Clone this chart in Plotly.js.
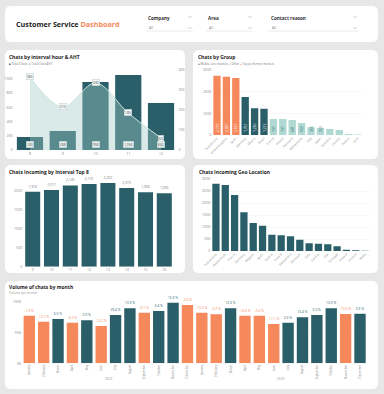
<!DOCTYPE html>
<html><head><meta charset="utf-8">
<script src="https://cdn.plot.ly/plotly-3.0.1.min.js"></script>
<style>html,body{margin:0;padding:0;background:#e7e7e7}#chart{width:384px;height:394px}</style>
</head><body><div id="chart"></div>
<script>
// ---------- DATA ----------
const hourCats = ["8", "9", "10", "11", "12"];
const hourChats = [183, 268, 958, 1056, 662];
const hourAHT = [365, 215, 335, 185, 60];

const groupNames = ["Scandinavia", "United Kingdom", "Spain", "Germany", "Mexico", "Brazil", "France", "Poland", "Denmark", "Netherlands", "Italy", "Japan", "Australia", "Canada", "Austria", "Chile"];
const groupChats = [2733, 2687, 2627, 1751, 1230, 1212, 737, 737, 691, 553, 355, 323, 276, 230, 46, 23];
const groupSegments = ["Top performer markets", "Top performer markets", "Top performer markets",
  "Mobile core markets", "Mobile core markets", "Mobile core markets",
  "Other", "Other", "Other", "Other", "Other", "Other", "Other", "Other", "Other", "Other"];
const segmentNames = ["Mobile core markets", "Other", "Top performer markets"];

const intervalCats = ["9", "10", "11", "12", "13", "14", "15", "16"];
const intervalChats = [1974, 2017, 2140, 2175, 2202, 2070, 1956, 1930];

const geoNames = ["Scandinavia", "Netherlands", "France", "Germany", "Belgium", "Spain", "Austria", "Poland", "Switzerland", "Denmark", "Italy", "Czechia", "USA", "Portugal", "Ireland", "Finland", "Malta"];
const geoChats = [2805, 2750, 2333, 1611, 1167, 1055, 680, 653, 611, 472, 320, 305, 278, 195, 55, 28, 14];

const months = ["January", "February", "March", "April", "May", "June", "July", "August", "September", "October", "November", "December"];
const years = ["2022", "2023"];
const volume2022 = [77.3, 67.5, 71.9, 65.9, 69.8, 60.6, 78.4, 89.3, 82.1, 84.9, 98.4, 94.7];
const volume2023 = [82.1, 79.5, 89.3, 77.3, 77.0, 63.8, 65.9, 74.7, 78.4, 89.3, 80.0, 80.5];
const volumeDec2021 = 78.8;

// ---------- STYLE ----------
const W = 384, H = 394;
const X = v => v / W, Y = v => 1 - v / H;
const FONT = 'Segoe UI, Open Sans, sans-serif';
const TEAL = '#2a5f6a', ORANGE = '#f5895c', LIGHT = '#afd9d2', BG = '#e7e7e7';
const TICKF = {size: 3.6, color: '#888', family: FONT};
const TITLE = 4.9;

function card(x0, y0, x1, y1, r) {
  return {type: 'path', xref: 'paper', yref: 'paper', layer: 'below', fillcolor: '#ffffff', line: {width: 0},
    path: `M ${X(x0 + r)} ${Y(y0)} L ${X(x1 - r)} ${Y(y0)} Q ${X(x1)} ${Y(y0)} ${X(x1)} ${Y(y0 + r)} L ${X(x1)} ${Y(y1 - r)} Q ${X(x1)} ${Y(y1)} ${X(x1 - r)} ${Y(y1)} L ${X(x0 + r)} ${Y(y1)} Q ${X(x0)} ${Y(y1)} ${X(x0)} ${Y(y1 - r)} L ${X(x0)} ${Y(y0 + r)} Q ${X(x0)} ${Y(y0)} ${X(x0 + r)} ${Y(y0)} Z`};
}
function chevron(cx, cy) {
  return {type: 'path', xref: 'paper', yref: 'paper', line: {color: '#aaa', width: 0.5},
    path: `M ${X(cx - 2)} ${Y(cy - 1)} L ${X(cx)} ${Y(cy + 1)} L ${X(cx + 2)} ${Y(cy - 1)}`};
}
function hline(x0, x1, y, c) {
  return {type: 'line', xref: 'paper', yref: 'paper', x0: X(x0), x1: X(x1), y0: Y(y), y1: Y(y), line: {color: c || '#dcdcdc', width: 0.6}};
}
function label(x, y, text, size, color, bold, extra) {
  return Object.assign({xref: 'paper', yref: 'paper', x: X(x), y: Y(y), xanchor: 'left', yanchor: 'middle', showarrow: false,
    text: bold ? '<b>' + text + '</b>' : text, font: {family: FONT, size: size, color: color}}, extra || {});
}
const fmt = v => v.toLocaleString('en-US');

// ---------- TRACES ----------
const traces = [];
const hourIdx = hourCats.map((c, i) => i);
// Chart 1
traces.push({type: 'bar', x: hourIdx, y: hourChats, xaxis: 'x', yaxis: 'y', marker: {color: TEAL}, width: 0.8, hoverinfo: 'none'});
traces.push({type: 'scatter', mode: 'lines', x: hourIdx, y: hourAHT, xaxis: 'x', yaxis: 'y2', line: {color: '#cfe6e2', width: 1, shape: 'spline', smoothing: 1}, fill: 'tozeroy', fillcolor: 'rgba(159,203,197,0.4)', hoverinfo: 'none'});
// Chart 2
const segColor = {"Top performer markets": ORANGE, "Mobile core markets": TEAL, "Other": LIGHT};
traces.push({type: 'bar', x: groupNames, y: groupChats, xaxis: 'x2', yaxis: 'y3', width: 0.78,
  marker: {color: groupSegments.map(s => segColor[s])},
  text: groupChats.map(v => v >= 300 ? fmt(v) : ''), textposition: 'inside', insidetextanchor: 'start', textangle: -90, constraintext: 'none',
  textfont: {size: 3.3, family: FONT, color: groupSegments.map(s => s === 'Other' ? '#2a5f6a' : '#ffffff')}, hoverinfo: 'none'});
// Chart 3
traces.push({type: 'bar', x: intervalCats, y: intervalChats, xaxis: 'x3', yaxis: 'y4', width: 0.8, marker: {color: TEAL},
  text: intervalChats.map(fmt), textposition: 'outside', constraintext: 'none', cliponaxis: false,
  textfont: {size: 3.3, family: FONT, color: '#777'}, hoverinfo: 'none'});
// Chart 4
traces.push({type: 'bar', x: geoNames, y: geoChats, xaxis: 'x4', yaxis: 'y5', width: 0.78, marker: {color: TEAL}, hoverinfo: 'none'});
// Chart 5
const allVol = volume2022.concat(volume2023);
const idx = allVol.map((v, i) => i);
const pct = allVol.map((v, i) => { const p = i === 0 ? volumeDec2021 : allVol[i - 1]; return (v - p) / p * 100; });
const volColors = pct.map(p => p < 0 ? ORANGE : TEAL);
traces.push({type: 'bar', x: idx, y: allVol, xaxis: 'x5', yaxis: 'y6', width: 0.79, marker: {color: volColors},
  text: pct.map(p => (p < 0 ? '-' : '') + Math.abs(p).toFixed(1) + ' %'), textposition: 'outside', constraintext: 'none', cliponaxis: false,
  textfont: {size: 3.3, family: FONT, color: volColors}, hoverinfo: 'none'});

// ---------- ANNOTATIONS ----------
const ann = [];
ann.push(label(14, 24, 'Customer Service <span style="color:#f5895c">Dashboard</span>', 7.2, '#222', true));
ann.push(label(146, 18, 'Company', 4.6, '#333', true));
ann.push(label(147, 28, 'All', 3.6, '#888'));
ann.push(label(206, 18, 'Area', 4.6, '#333', true));
ann.push(label(207, 28, 'All', 3.6, '#888'));
ann.push(label(269, 18, 'Contact reason', 4.6, '#333', true));
ann.push(label(270, 28, 'All', 3.6, '#888'));

ann.push(label(7, 57, 'Chats by interval hour &amp; AHT', TITLE, '#222', true));
ann.push(label(7, 64, '<span style="color:#2a5f6a">■</span> Total Chats  <span style="color:#9fcbc5">■</span> Total Chat AHT', 3, '#777'));
ann.push(label(196, 57, 'Chats by Group', TITLE, '#222', true));
ann.push(label(196, 64, '<span style="color:#2a5f6a">●</span> ' + segmentNames[0] + ' <span style="color:#afd9d2">●</span> ' + segmentNames[1] + ' <span style="color:#f5895c">●</span> ' + segmentNames[2], 2.9, '#777'));
ann.push(label(7, 172, 'Chats Incoming by Interval Top 8', TITLE, '#222', true));
ann.push(label(197, 172, 'Chats Incoming Geo Location', TITLE, '#222', true));
ann.push(label(7, 287, 'Volume of chats by month', TITLE, '#222', true));
ann.push(label(7, 293, 'Volume per month', 3.2, '#999'));

hourChats.forEach((v, i) => ann.push({xref: 'x', yref: 'y', x: i, y: 0, yanchor: 'bottom', yshift: 2, showarrow: false,
  text: fmt(v), font: {size: 3.3, family: FONT, color: '#444'}, bgcolor: '#e9f2f1', bordercolor: '#b9cfcd', borderwidth: 0.5, borderpad: 0.6}));
hourAHT.forEach((v, i) => ann.push({xref: 'x', yref: 'y2', x: i, y: v, yanchor: 'middle', showarrow: false,
  text: fmt(v), font: {size: 3.3, family: FONT, color: '#444'}, bgcolor: '#f4f9f8', bordercolor: '#b9cfcd', borderwidth: 0.5, borderpad: 0.6}));
years.forEach((yr, k) => ann.push({xref: 'x5', yref: 'paper', x: k * 12 + 5.5, y: Y(383), showarrow: false, text: yr,
  font: {size: 3.2, family: FONT, color: '#999'}}));

// ---------- LAYOUT ----------
const smallX = {size: 3, color: '#888', family: FONT};
const baseX = {showgrid: false, zeroline: false, showline: false, ticks: '', tickfont: TICKF, fixedrange: true};
const baseY = {showgrid: false, zeroline: false, showline: false, ticks: '', tickfont: TICKF, fixedrange: true};
const layout = {
  width: W, height: H, margin: {l: 0, r: 0, t: 0, b: 0}, paper_bgcolor: BG, plot_bgcolor: 'rgba(0,0,0,0)', showlegend: false,
  font: {family: FONT, size: 4, color: '#777'},
  xaxis: Object.assign({}, baseX, {domain: [X(13.6), X(177.4)], anchor: 'y', range: [-0.5, 4.5], tickvals: hourIdx, ticktext: hourCats}),
  yaxis: Object.assign({}, baseY, {domain: [Y(150), Y(70)], anchor: 'x', range: [0, 1127], tickvals: [0, 200, 400, 600, 800, 1000]}),
  yaxis2: Object.assign({}, baseY, {overlaying: 'y', anchor: 'x', side: 'right', range: [0, 400], tickvals: [0, 100, 200, 300, 400]}),
  xaxis2: Object.assign({}, baseX, {domain: [X(212.3), X(362.7)], anchor: 'y3', type: 'category', tickangle: -45, tickfont: smallX}),
  yaxis3: Object.assign({}, baseY, {domain: [Y(135), Y(70)], anchor: 'x2', range: [0, 3000], tickvals: [0, 1000, 2000, 3000], showgrid: true, gridcolor: '#f1f1f1', gridwidth: 0.5}),
  xaxis3: Object.assign({}, baseX, {domain: [X(23.3), X(173.7)], anchor: 'y4', type: 'category'}),
  yaxis4: Object.assign({}, baseY, {domain: [Y(266.7), Y(175.5)], anchor: 'x3', range: [0, 2400], tickvals: [0, 500, 1000, 1500, 2000]}),
  xaxis4: Object.assign({}, baseX, {domain: [X(211.3), X(369.7)], anchor: 'y5', type: 'category', tickangle: -45, tickfont: smallX}),
  yaxis5: Object.assign({}, baseY, {domain: [Y(251), Y(179)], anchor: 'x4', range: [0, 3000], tickvals: [0, 500, 1000, 1500, 2000, 2500, 3000], showgrid: true, gridcolor: '#f1f1f1', gridwidth: 0.5}),
  xaxis5: Object.assign({}, baseX, {domain: [X(22.1), X(367.2)], anchor: 'y6', range: [-0.5, 23.5], tickvals: idx, ticktext: years.flatMap(() => months), tickangle: -90, tickfont: {size: 2.8, color: '#888', family: FONT}}),
  yaxis6: Object.assign({}, baseY, {domain: [Y(363.3), Y(301.7)], anchor: 'x5', range: [0, 100], tickvals: [0, 50, 100], ticktext: ['0K', '50K', '100K'], showgrid: true, gridcolor: '#f1f1f1', gridwidth: 0.5}),
  shapes: [
    card(5, 6, 378, 42, 6), card(5, 50, 185, 159, 6), card(193, 50, 378, 159, 6),
    card(5, 165, 185, 273, 6), card(193, 165, 378, 273, 6), card(5, 281, 378, 389, 6),
    hline(146, 193, 31), hline(206, 253, 31), hline(268, 358, 31),
    chevron(190, 17), chevron(190, 28), chevron(250, 17), chevron(250, 28), chevron(355, 17), chevron(355, 28)
  ],
  annotations: ann
};
Plotly.newPlot('chart', traces, layout, {staticPlot: true, displayModeBar: false});
</script></body></html>
